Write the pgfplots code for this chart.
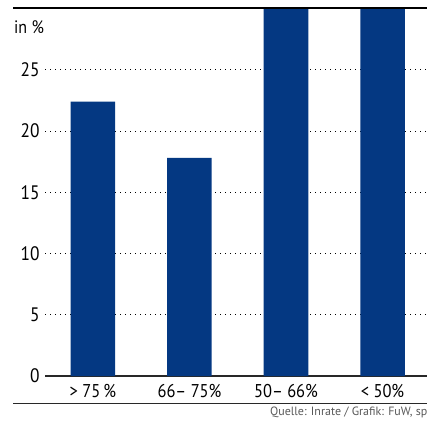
\documentclass[border=0pt]{standalone}
\usepackage{fontspec}
\setmainfont{PT Sans}[FakeStretch=0.89]
\newfontfamily\srcfont{PT Sans}
\usepackage{pgfplots}
\pgfplotsset{compat=1.18}
\definecolor{barblue}{RGB}{4,56,130}
\definecolor{axisgray}{RGB}{40,40,40}
\begin{document}
\begin{tikzpicture}[x=1pt,y=1pt]
\useasboundingbox (0,0) rectangle (427,422);
\clip (0,0) rectangle (427,422);
\begin{axis}[
  at={(45pt,46pt)}, anchor=south west,
  scale only axis, width=382pt, height=367pt,
  xmin=-0.497, xmax=3.461, ymin=0, ymax=29.96,
  axis x line=bottom, axis y line=left,
  x axis line style={-, color=axisgray, line width=1.2pt},
  y axis line style={draw=none},
  xtick={0,1,2,3},
  xticklabels={{> 75\,\%},{66-- 75\%},{50-- 66\%},{< 50\%}},
  ytick={0,5,10,15,20,25},
  major tick length=0pt,
  ymajorgrids,
  grid style={black, line width=0.8pt, dash pattern=on 0.8pt off 4.2pt},
  /pgf/number format/assume math mode=true,
  ticklabel style={font=\fontsize{18.5}{20}\selectfont, text=black},
  yticklabel style={anchor=east, xshift=-2pt, font=\fontsize{19.5}{21}\selectfont},
  xticklabel style={anchor=north, inner sep=0pt, yshift=-8pt},
  clip=true,
]
\addplot[ybar, bar width=44.5pt, fill=barblue, draw=none] coordinates {
  (0,22.4) (1,17.8) (2,32) (3,32)
};
\end{axis}
\draw[black, line width=2.6pt] (13,414) -- (427,414);
\draw[axisgray, line width=1pt] (13,18.7) -- (427,18.7);
\node[anchor=west, inner sep=0pt, font=\fontsize{18}{20}\selectfont] at (14,395) {in \%};
\node[anchor=west, inner sep=0pt, text=black!65, font=\srcfont\fontsize{12}{14}\selectfont] at (270,9.5) {Quelle: Inrate / Grafik: FuW, sp};
\end{tikzpicture}
\end{document}
